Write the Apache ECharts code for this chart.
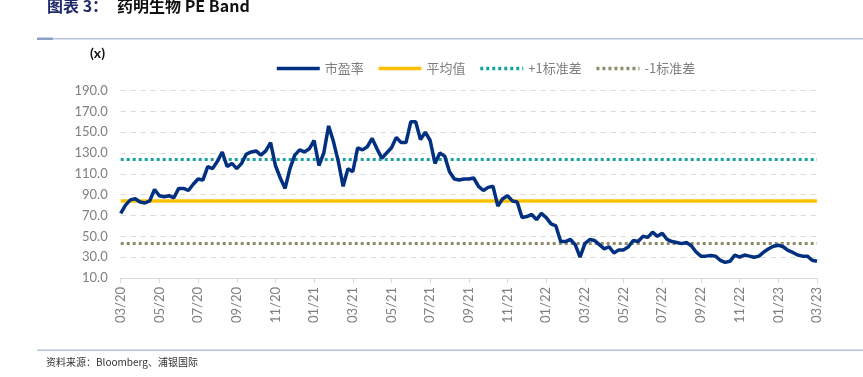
<!DOCTYPE html>
<html>
<head>
<meta charset="utf-8">
<script src="https://cdn.jsdelivr.net/npm/echarts@6/dist/echarts.min.js"></script>
<style>
html,body{margin:0;padding:0;background:#fff;}
#c{width:863px;height:377px;}
</style>
</head>
<body>
<div id="c"></div>
<script>
// Tick labels (every 2 months) on the x axis
const tickLabels = ['03/20','05/20','07/20','09/20','11/20','01/21','03/21','05/21','07/21','09/21','11/21','01/22','03/22','05/22','07/22','09/22','11/22','01/23','03/23'];
// Roughly weekly PE readings, 03/2020 - 03/2023 (8 readings per tick interval)
const pe = [72,80,85,86,83,82,84,95,89,88,89,87,96,96,94,100,105,104,117,115,122,131,117,120,115,120,129,131,132,128,132,140,118,106,96,115,128,133,131,134,142,118,130,156,141,122,98,115,112,135,133,136,144,134,125,130,135,145,140,140,160,160,143,150,142,120,130,127,112,105,104,105,105,106,98,94,97,98,79,86,89,84,83,68,69,71,66,72,68,62,60,45,45,47,42,30,43,47,46,42,38,40,34,37,37,40,46,45,50,49,54,50,53,47,45,44,43,44,41,35,31,31,31.5,31,27,25,26,32,30,32,31,30,31,35,38,40.5,41.5,40,36.5,34.5,32,31,31,27,26];
const meanPE = 83.7;
const plus1SD = 124.2;
const minus1SD = 43.1;
const seriesNames = ['市盈率','平均值','+1标准差','-1标准差'];
const yTicks = {min:10, max:190, interval:20};

const categories = pe.map((_, i) => 'w' + i);
const step = 8;

const chart = echarts.init(document.getElementById('c'));
const font = 'Lato, "Noto Sans CJK SC", sans-serif';
chart.setOption({
  animation:false,
  textStyle:{fontFamily:font},
  grid:{left:120.7, right:46, top:90.5, bottom:99, containLabel:false},
  legend:{
    left:270, top:57, itemWidth:43, itemHeight:10, itemGap:13,
    itemStyle:{opacity:0},
    lineStyle:{width:3.5},
    textStyle:{color:'#7f7f7f', fontSize:13, fontFamily:'"Noto Sans CJK SC", sans-serif'},
    data:seriesNames
  },
  graphic:[
    {type:'text', left:47, top:-2, style:{text:'图表 3：', fill:'#1f2a6b', font:'bold 16px "Noto Sans CJK SC", sans-serif'}},
    {type:'text', left:117, top:-2, style:{text:'药明生物 PE Band', fill:'#111', font:'bold 16px "Noto Sans CJK SC", sans-serif'}},
    {type:'rect', shape:{x:37, y:38, width:826, height:1.5}, style:{fill:'#b7c3da'}},
    {type:'rect', shape:{x:37, y:37.5, width:16, height:2.5}, style:{fill:'#8ea0c4'}},
    {type:'text', left:90, top:46, style:{text:'(x)', fill:'#111', font:'bold 14px Lato, sans-serif'}},
    {type:'rect', shape:{x:37, y:349.5, width:826, height:1.5}, style:{fill:'#b7c3da'}},
    {type:'text', left:46, top:357, style:{text:'资料来源：Bloomberg、浦银国际', fill:'#333', font:'10px "Noto Sans CJK SC", sans-serif'}}
  ],
  xAxis:{
    type:'category', data:categories, boundaryGap:false,
    axisLine:{lineStyle:{color:'#d9d9d9', width:1}},
    axisTick:{show:true, interval:(i)=> i % step === 0, length:5, lineStyle:{color:'#d9d9d9'}},
    axisLabel:{
      interval:(i)=> i % step === 0, rotate:90, color:'#7f7f7f', fontSize:13, margin:9,
      formatter:(v, i)=> tickLabels[i / step] || ''
    },
    splitLine:{show:false}
  },
  yAxis:{
    type:'value', min:yTicks.min, max:yTicks.max, interval:yTicks.interval,
    axisLine:{show:false}, axisTick:{show:false},
    axisLabel:{color:'#7f7f7f', fontSize:13, margin:13, formatter:(v)=> v.toFixed(1)},
    splitLine:{lineStyle:{color:'#d9d9d9', type:[5,5], width:1}}
  },
  series:[
    {name:seriesNames[0], type:'line', data:pe, symbol:'none', smooth:false,
      lineStyle:{color:'#00307f', width:3.5}, itemStyle:{color:'#00307f'}, z:5},
    {name:seriesNames[1], type:'line', data:[], symbol:'none',
      lineStyle:{color:'#ffc000', width:3.5}, itemStyle:{color:'#ffc000'},
      markLine:{silent:true, symbol:'none', label:{show:false},
        lineStyle:{color:'#ffc000', width:3.5, type:'solid'}, data:[{yAxis:meanPE}]}, z:4},
    {name:seriesNames[2], type:'line', data:[], symbol:'none',
      lineStyle:{color:'#17a2a2', width:3, type:[3,3]}, itemStyle:{color:'#17a2a2'},
      markLine:{silent:true, symbol:'none', label:{show:false},
        lineStyle:{color:'#17a2a2', width:3, type:[3,3]}, data:[{yAxis:plus1SD}]}, z:3},
    {name:seriesNames[3], type:'line', data:[], symbol:'none',
      lineStyle:{color:'#8e8c6a', width:3, type:[3,3]}, itemStyle:{color:'#8e8c6a'},
      markLine:{silent:true, symbol:'none', label:{show:false},
        lineStyle:{color:'#8e8c6a', width:3, type:[3,3]}, data:[{yAxis:minus1SD}]}, z:3}
  ]
});
</script>
</body>
</html>
